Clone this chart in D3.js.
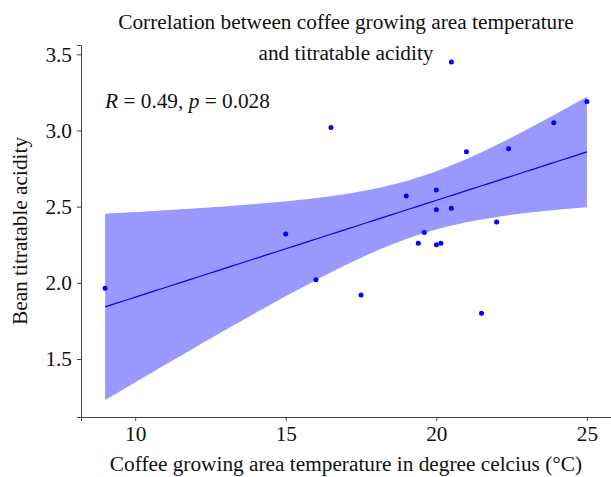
<!DOCTYPE html>
<html>
<head>
<meta charset="utf-8">
<script src="https://cdn.jsdelivr.net/npm/d3@7"></script>
<style>
  body { margin: 0; background: #ffffff; }
  text { font-family: "Liberation Serif", "Times New Roman", serif; }
</style>
</head>
<body>
<div id="chart"></div>
<script>
// Datos: temperatura de la zona (°C) y acidez titulable del grano
const temperature = [20.5, 25, 23.9, 16.5, 21, 22.4, 19, 20, 20, 20.5,
                     22, 15, 19.6, 19.4, 20, 20.15, 16, 17.5, 21.5, 9];
const acidity     = [3.45, 3.19, 3.05, 3.02, 2.86, 2.88, 2.57, 2.61, 2.48, 2.49,
                     2.40, 2.32, 2.33, 2.26, 2.25, 2.26, 2.02, 1.92, 1.80, 1.965];
const xTicks = [10, 15, 20, 25];
const yTicks = [1.5, 2.0, 2.5, 3.0, 3.5];
const titleLines = ["Correlation between coffee growing area temperature", "and titratable acidity"];
const xTitle = "Coffee growing area temperature in degree celcius (\u00B0C)";
const yTitle = "Bean titratable acidity";
const statR = "0.49", statP = "0.028";
const tCrit = 2.101; // t(0.975, df = 18)

const width = 611, height = 477;
const margin = { top: 45, right: 0, bottom: 60, left: 81 };
const fontSize = "21.3px";

const svg = d3.select("#chart").append("svg")
    .attr("width", width)
    .attr("height", height);

// Ajuste lineal y banda de confianza (como geom_smooth(method = "lm"))
function linearFit(xs, ys) {
    const n = xs.length;
    const mx = d3.mean(xs), my = d3.mean(ys);
    let sxx = 0, sxy = 0;
    xs.forEach((x, i) => { sxx += (x - mx) ** 2; sxy += (x - mx) * (ys[i] - my); });
    const slope = sxy / sxx, intercept = my - slope * mx;
    let sse = 0;
    xs.forEach((x, i) => { sse += (ys[i] - (intercept + slope * x)) ** 2; });
    const s = Math.sqrt(sse / (n - 2));
    return { n, mx, sxx, slope, intercept, s };
}

const fit = linearFit(temperature, acidity);
const [xMin, xMax] = d3.extent(temperature);
const band = d3.range(80).map(i => {
    const x = xMin + (xMax - xMin) * i / 79;
    const y = fit.intercept + fit.slope * x;
    const se = fit.s * Math.sqrt(1 / fit.n + (x - fit.mx) ** 2 / fit.sxx);
    return { x, y, lo: y - tCrit * se, hi: y + tCrit * se };
});

// Escalas con expansión del 5 % (estilo ggplot)
const xPad = (xMax - xMin) * 0.05;
const yLo = Math.min(d3.min(acidity), d3.min(band, d => d.lo));
const yHi = Math.max(d3.max(acidity), d3.max(band, d => d.hi));
const yPad = (yHi - yLo) * 0.05;

const x = d3.scaleLinear()
    .domain([xMin - xPad, xMax + xPad])
    .range([margin.left, width - margin.right]);
const y = d3.scaleLinear()
    .domain([yLo - yPad, yHi + yPad])
    .range([height - margin.bottom, margin.top]);

// Banda de confianza
svg.append("path")
    .datum(band)
    .attr("fill", "#9999ff")
    .attr("d", d3.area().x(d => x(d.x)).y0(d => y(d.lo)).y1(d => y(d.hi)));

// Recta de regresión
svg.append("path")
    .datum(band)
    .attr("fill", "none")
    .attr("stroke", "#0000ff")
    .attr("stroke-width", 1.2)
    .attr("d", d3.line().x(d => x(d.x)).y(d => y(d.y)));

// Puntos
svg.append("g").selectAll("circle")
    .data(temperature.map((t, i) => [t, acidity[i]]))
    .enter().append("circle")
    .attr("cx", d => x(d[0]))
    .attr("cy", d => y(d[1]))
    .attr("r", 2.5)
    .attr("fill", "#0000ff");

// Ejes
const xAxis = svg.append("g")
    .attr("transform", `translate(0,${height - margin.bottom})`)
    .call(d3.axisBottom(x).tickValues(xTicks).tickSize(4).tickPadding(5).tickFormat(d3.format("d")));
const yAxis = svg.append("g")
    .attr("transform", `translate(${margin.left},0)`)
    .call(d3.axisLeft(y).tickValues(yTicks).tickSize(4).tickPadding(5).tickFormat(d3.format(".1f")));

[xAxis, yAxis].forEach(g => {
    g.select(".domain").attr("stroke", "#444").attr("stroke-width", 1);
    g.selectAll(".tick line").attr("stroke", "#444");
    g.selectAll(".tick text")
        .attr("fill", "#111")
        .style("font-family", "'Liberation Serif', serif")
        .style("font-size", fontSize);
});

// Títulos
const cx = (margin.left + width - margin.right) / 2;
svg.selectAll(".title")
    .data(titleLines)
    .enter().append("text")
    .attr("class", "title")
    .attr("x", cx)
    .attr("y", (d, i) => 29 + i * 31)
    .attr("text-anchor", "middle")
    .style("font-size", fontSize)
    .attr("fill", "#111")
    .text(d => d);

svg.append("text")
    .attr("x", cx)
    .attr("y", 471)
    .attr("text-anchor", "middle")
    .style("font-size", fontSize)
    .attr("fill", "#111")
    .text(xTitle);

svg.append("text")
    .attr("transform", `translate(27,${(margin.top + height - margin.bottom) / 2}) rotate(-90)`)
    .attr("text-anchor", "middle")
    .style("font-size", fontSize)
    .attr("fill", "#111")
    .text(yTitle);

// Anotación de correlación
const ann = svg.append("text")
    .attr("x", x(xMin))
    .attr("y", 108)
    .style("font-size", fontSize)
    .attr("fill", "#111");
ann.append("tspan").style("font-style", "italic").text("R");
ann.append("tspan").text(` = ${statR}, `);
ann.append("tspan").style("font-style", "italic").text("p");
ann.append("tspan").text(` = ${statP}`);
</script>
</body>
</html>
